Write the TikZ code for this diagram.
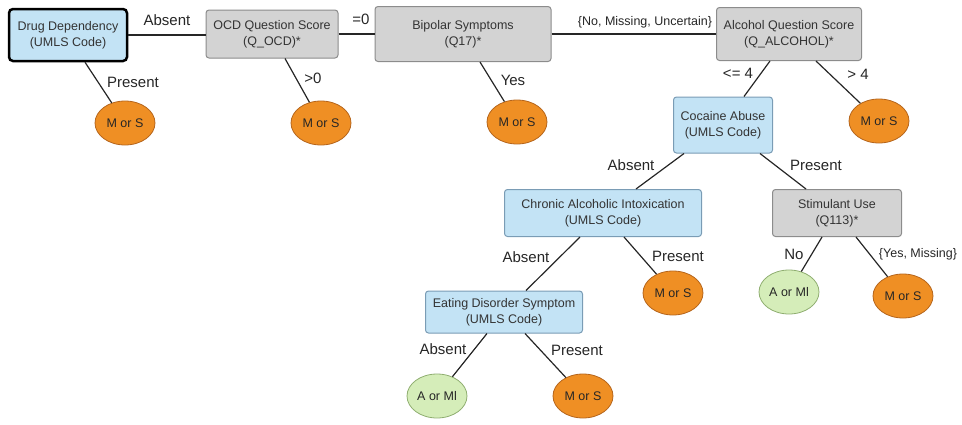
\documentclass[tikz,border=0pt]{standalone}
\usepackage{fontspec}
\setmainfont{Liberation Sans}
\usetikzlibrary{shapes.geometric}
\definecolor{bluef}{HTML}{C3E3F5}
\definecolor{blued}{HTML}{7A9CB5}
\definecolor{grayf}{HTML}{D3D3D3}
\definecolor{grayd}{HTML}{8C8C8C}
\definecolor{orangef}{HTML}{EF8F24}
\definecolor{oranged}{HTML}{B5651C}
\definecolor{greenf}{HTML}{D5EDB9}
\definecolor{greend}{HTML}{8FAE70}
\begin{document}
\begin{tikzpicture}[x=1pt,y=-1pt,
 box/.style={rectangle, rounded corners=3pt, align=center, inner sep=0pt, font=\fontsize{12.5}{16}\selectfont, text=black!80},
 bluebox/.style={box, fill=bluef, draw=blued, line width=1pt},
 graybox/.style={box, fill=grayf, draw=grayd, line width=1pt},
 leaf/.style={ellipse, minimum width=60pt, minimum height=44pt, inner sep=0pt, font=\fontsize{12.5}{15}\selectfont, text=black!85, line width=0.8pt},
 ms/.style={leaf, fill=orangef, draw=oranged},
 am/.style={leaf, fill=greenf, draw=greend},
 lab/.style={font=\fontsize{15}{18}\selectfont, inner sep=0pt, text=black!85},
 slab/.style={font=\fontsize{12.5}{15}\selectfont, inner sep=0pt, text=black!85},
 edge/.style={line width=1.2pt, draw=black!85}]
\useasboundingbox (0,0) rectangle (962,424);

% decision boxes
\node[box, fill=bluef, draw=black, line width=2.5pt, rounded corners=4pt, minimum width=118pt, minimum height=52pt] (drug) at (68,35) {Drug Dependency\\(UMLS Code)};
\node[graybox, minimum width=132pt, minimum height=48pt] (ocd) at (272,34) {OCD Question Score\\(Q\_OCD)*};
\node[graybox, minimum width=176pt, minimum height=55pt] (bip) at (463,34) {Bipolar Symptoms\\(Q17)*};
\node[graybox, minimum width=145pt, minimum height=53pt] (alc) at (789,34) {Alcohol Question Score\\(Q\_ALCOHOL)*};
\node[bluebox, minimum width=99pt, minimum height=56pt] (coc) at (723,125) {Cocaine Abuse\\(UMLS Code)};
\node[bluebox, minimum width=197pt, minimum height=47pt] (chr) at (603,213) {Chronic Alcoholic Intoxication\\(UMLS Code)};
\node[graybox, minimum width=129pt, minimum height=47pt] (stim) at (837,213) {Stimulant Use\\(Q113)*};
\node[bluebox, minimum width=157pt, minimum height=42pt] (eat) at (504,312) {Eating Disorder Symptom\\(UMLS Code)};

% leaves
\node[ms] (m1) at (125,123) {M or S};
\node[ms] (m2) at (321,123) {M or S};
\node[ms] (m3) at (517,122) {M or S};
\node[ms] (m4) at (879,121) {M or S};
\node[ms] (m5) at (673,293) {M or S};
\node[am] (a1) at (789,292) {A or Ml};
\node[ms] (m6) at (903,296) {M or S};
\node[am] (a2) at (437,396) {A or Ml};
\node[ms] (m7) at (583,396) {M or S};

% edges
\draw[edge] (drug.east) -- (drug.east -| ocd.west);
\draw[edge] (ocd.east) -- (ocd.east -| bip.west);
\draw[edge] (bip.east) -- (bip.east -| alc.west);
\draw[edge] ([xshift=17pt]drug.south) -- (m1);
\draw[edge] ([xshift=13pt]ocd.south) -- (m2);
\draw[edge] ([xshift=17pt]bip.south) -- (m3);
\draw[edge] ([xshift=-19pt]alc.south) -- ([xshift=21pt]coc.north);
\draw[edge] ([xshift=27pt]alc.south) -- (m4);
\draw[edge] ([xshift=-39pt]coc.south) -- ([xshift=33pt]chr.north);
\draw[edge] ([xshift=37pt]coc.south) -- ([xshift=-31pt]stim.north);
\draw[edge] ([xshift=-23pt]chr.south) -- ([xshift=22pt]eat.north);
\draw[edge] ([xshift=21pt]chr.south) -- (m5);
\draw[edge] ([xshift=-15pt]stim.south) -- (a1);
\draw[edge] ([xshift=19pt]stim.south) -- (m6);
\draw[edge] ([xshift=-17pt]eat.south) -- (a2);
\draw[edge] ([xshift=21pt]eat.south) -- (m7);

% labels
\node[lab] (l1) at (167,20) {Absent};
\node[lab] (l2) at (133,82) {Present};
\node[lab] (l3) at (313,78) {>0};
\node[lab] (l4) at (361,19) {=0};
\node[lab] (l5) at (513,80) {Yes};
\node[slab] (l6) at (645,22) {\{No, Missing, Uncertain\}};
\node[lab] (l7) at (738,73) {<= 4};
\node[lab] (l8) at (858,74) {> 4};
\node[lab] (l9) at (631,165) {Absent};
\node[lab] (l10) at (816,165) {Present};
\node[lab] (l11) at (526,257) {Absent};
\node[lab] (l12) at (678,256) {Present};
\node[lab] (l13) at (794,254) {No};
\node[slab] (l14) at (918,254) {\{Yes, Missing\}};
\node[lab] (l15) at (443,349) {Absent};
\node[lab] (l16) at (577,350) {Present};
\end{tikzpicture}
\end{document}
